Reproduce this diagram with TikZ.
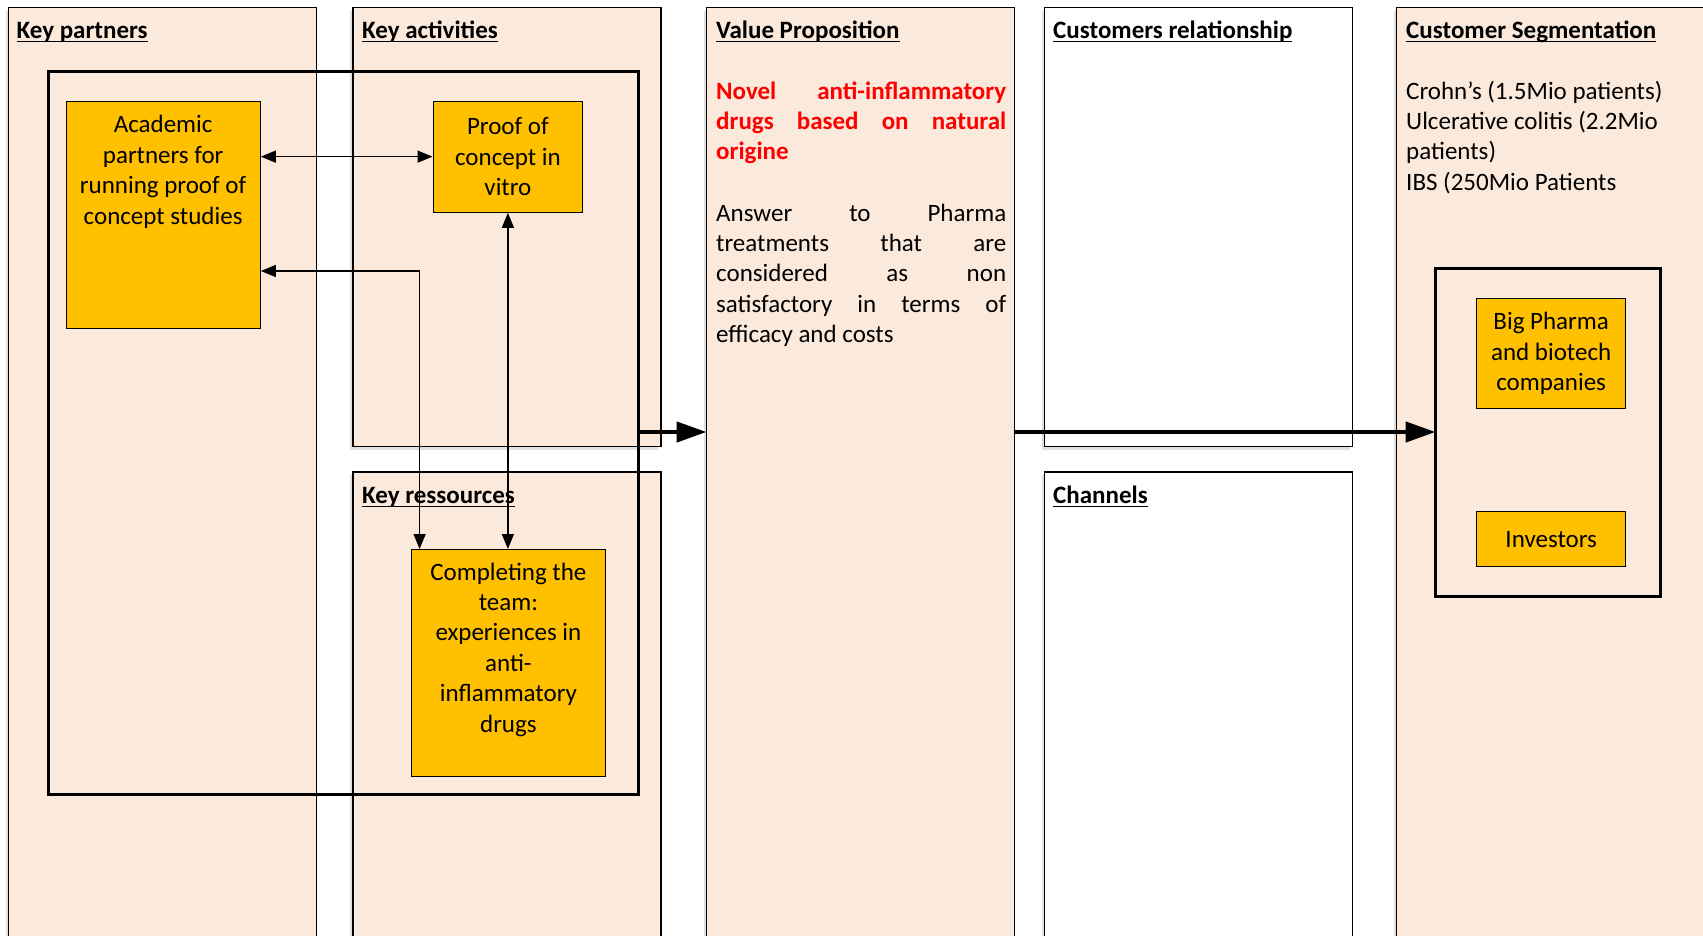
\documentclass[tikz,border=0pt]{standalone}
\usepackage{fontspec}
\setmainfont{Carlito}
\usepackage{xcolor}
\usetikzlibrary{arrows.meta, positioning, shadows}
\definecolor{cellpeach}{HTML}{FBE9DC}
\definecolor{boxgold}{HTML}{FFC000}
\definecolor{vpred}{HTML}{FF0000}
\newcommand\cellfont{\fontsize{25}{30.4}\selectfont}
\newcommand\capunder[1]{\setbox0\hbox{#1}\rlap{\rule[-4.3pt]{\wd0}{1.8pt}}\box0}
\tikzset{
    cell/.style      = {draw=black, line width=1.2pt, fill=cellpeach, inner sep=0pt, outer sep=0pt,
                        anchor=north west, drop shadow={shadow xshift=-3pt, shadow yshift=-3pt, opacity=0.25}},
    whitecell/.style = {cell, fill=white},
    groupframe/.style= {draw=black, line width=3pt, inner sep=0pt, outer sep=0pt, anchor=north west},
    goldbox/.style   = {draw=black, line width=1.3pt, fill=boxgold, inner sep=0pt, anchor=north west, align=center},
    boxtext/.style   = {align=center, inner sep=0pt},
    celltitle/.style = {font=\cellfont\bfseries, anchor=base west, inner sep=0pt},
    celltext/.style  = {anchor=north west, inner sep=0pt},
    link/.style      = {<->, >={Triangle[length=15pt, width=12pt]}, line width=1.3pt},
    flow/.style      = {-{Triangle[length=30pt, width=20pt]}, line width=4.5pt},
}

\begin{document}
\begin{tikzpicture}[x=1pt, y=-1pt, font=\cellfont]
    \useasboundingbox (0,0) rectangle (1703,935);
    % canvas cells
    \node[cell, minimum width=308pt, minimum height=940pt] (kp) at (8.5,7.5) {};
    \node[cell, minimum width=308pt, minimum height=439pt] (ka) at (353,7.5) {};
    \node[cell, minimum width=308pt, minimum height=480pt] (kr) at (353,472) {};
    \node[cell, minimum width=308pt, minimum height=940pt] (vp) at (706.5,7.5) {};
    \node[whitecell, minimum width=308pt, minimum height=439pt] (cr) at (1044.5,7.5) {};
    \node[whitecell, minimum width=308pt, minimum height=480pt] (ch) at (1044.5,472) {};
    \node[cell, minimum width=320pt, minimum height=940pt] (cs) at (1396.5,7.5) {};
    % titles
    \node[celltitle] (kptitle) at (16.5,38) {\capunder{Key partners}};
    \node[celltitle] (katitle) at (362,38) {\capunder{Key activities}};
    \node[celltitle] (krtitle) at (362,503) {\capunder{Key ressources}};
    \node[celltitle] (vptitle) at (716,38) {\capunder{Value Proposition}};
    \node[celltitle] (crtitle) at (1053,38) {\capunder{Customers relationship}};
    \node[celltitle] (chtitle) at (1053,503) {\capunder{Channels}};
    \node[celltitle] (cstitle) at (1406,38) {\capunder{Customer Segmentation}};
    % value proposition
    \node[celltext, text width=290pt, align=justify, text=vpred, font=\cellfont\bfseries] (vpclaim) at (716,77.7)
        {\strut Novel anti-inflammatory\linebreak drugs based on natural\linebreak origine};
    \node[celltext, text width=290pt, align=justify] (vpanswer) at (716,199.7)
        {\strut Answer to Pharma\linebreak treatments that are\linebreak considered as non\linebreak
         satisfactory in terms of\linebreak efficacy and costs};
    % segments
    \node[celltext, align=left] (cslist) at (1406,77.7)
        {\strut Crohn’s (1.5Mio patients)\\Ulcerative colitis (2.2Mio\\patients)\\IBS (250Mio Patients};
    % frames
    \node[groupframe, minimum width=590pt, minimum height=723pt] (partframe) at (48,71) {};
    \node[groupframe, minimum width=224.5pt, minimum height=328pt] (segframe) at (1435.5,268) {};
    % gold boxes
    \node[goldbox, minimum width=194pt, minimum height=227.5pt] (acad) at (65.5,100.5) {};
    \node[boxtext, below=10.9pt of acad.north] (acadtext)
        {\strut Academic\\partners for\\running proof of\\concept studies};
    \node[goldbox, minimum width=149.5pt, minimum height=111pt] (proof) at (432.5,100.5)
        {Proof of\\concept in\\vitro};
    \node[goldbox, minimum width=194.5pt, minimum height=227pt] (complete) at (410.5,549) {};
    \node[boxtext, below=9.7pt of complete.north] (completetext)
        {\strut Completing the\\team:\\experiences in\\anti-\\inflammatory\\drugs};
    \node[goldbox, minimum width=149pt, minimum height=110.5pt] (pharma) at (1476,297.5)
        {Big Pharma\\and biotech\\companies};
    \node[goldbox, minimum width=149pt, minimum height=55pt] (invest) at (1476,511) {Investors};
    % links
    \coordinate (kink) at (419.6,271);
    \coordinate (flowy) at (0,432);
    \draw[link] (proof.west) -- (proof.west -| acad.east);
    \draw[link] (kink -| acad.east) -| (kink |- complete.north);
    \draw[link] (proof.south) -- (proof.south |- complete.north);
    \draw[flow] (partframe.east |- flowy) -- (flowy -| vp.west);
    \draw[flow] (flowy -| vp.east) -- (flowy -| segframe.west);
\end{tikzpicture}
\end{document}
